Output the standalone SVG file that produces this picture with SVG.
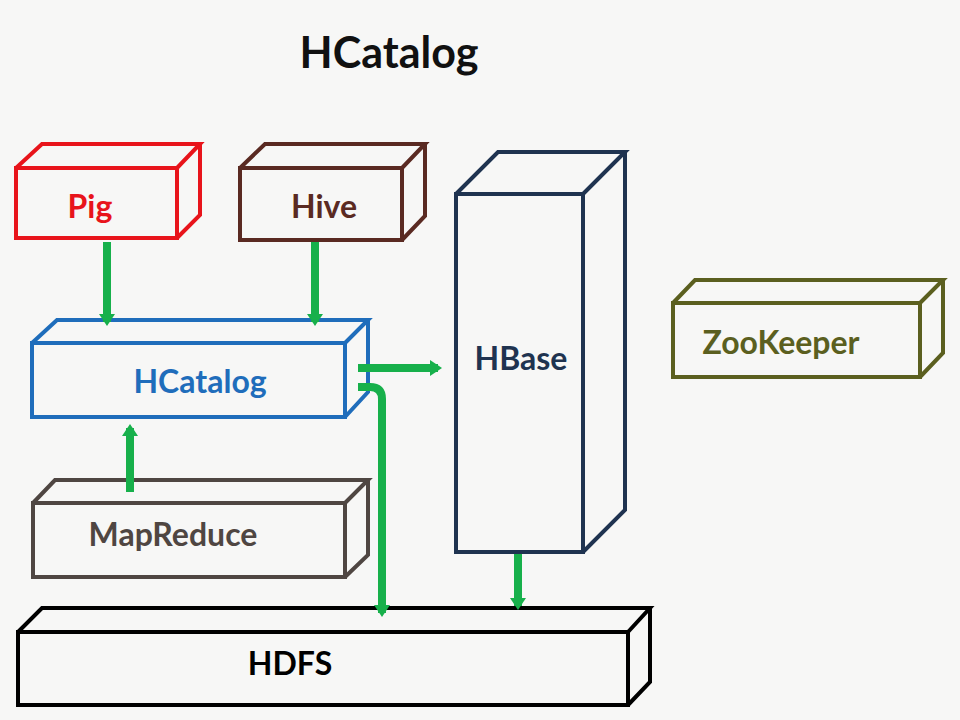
<svg xmlns="http://www.w3.org/2000/svg" width="960" height="720" viewBox="0 0 960 720">
<style>
.box{fill:none;stroke-width:4;stroke-linejoin:miter}
.lbl{font-family:Lato,"Open Sans","Liberation Sans",sans-serif;font-weight:bold;font-size:32px;text-anchor:middle;dominant-baseline:central}
.conn{fill:none;stroke:#17b04b;stroke-width:8}
</style>
<defs>
<marker id="ah" markerUnits="userSpaceOnUse" markerWidth="20" markerHeight="20" viewBox="0 0 20 20" refX="8" refY="10" orient="auto">
<polygon points="0,2 12,10 0,18" fill="#17b04b"/>
</marker>
</defs>
<rect width="960" height="720" fill="#f7f7f6"/>
<text x="389" y="51" class="lbl" style="font-size:43px;fill:#111">HCatalog</text>

<g id="pig">
<path class="box" stroke="#e8141b" d="M16,168 H177 V238 H16 Z M16,168 L42,144 H200 L177,168 M200,144 V215 L177,238"/>
<text x="90" y="205" class="lbl" fill="#e8141b">Pig</text>
</g>
<g id="hive">
<path class="box" stroke="#5a2a22" d="M240,168 H402 V240 H240 Z M240,168 L265,144 H425 L402,168 M425,144 V216 L402,240"/>
<text x="324" y="205" class="lbl" fill="#5a2a22">Hive</text>
</g>
<g id="hcatalog">
<path class="box" stroke="#1f6dbb" d="M32,343 H345 V417 H32 Z M32,343 L57,320 H368 L345,343 M368,320 V392 L345,417"/>
<text x="200" y="380" class="lbl" fill="#1f6dbb">HCatalog</text>
</g>
<g id="hbase">
<path class="box" stroke="#1f3350" d="M456,194 H583 V552 H456 Z M456,194 L498,152 H625 L583,194 M625,152 V510 L583,552"/>
<text x="521" y="357" class="lbl" fill="#1f3350">HBase</text>
</g>
<g id="zookeeper">
<path class="box" stroke="#5b5f1f" d="M673,303 H920 V377 H673 Z M673,303 L695,280 H943 L920,303 M943,280 V353 L920,377"/>
<text x="781" y="341" class="lbl" fill="#5b5f1f">ZooKeeper</text>
</g>
<g id="mapreduce">
<path class="box" stroke="#4f4642" d="M33,503 H345 V577 H33 Z M33,503 L55,480 H368 L345,503 M368,480 V555 L345,577"/>
<text x="173" y="533" class="lbl" fill="#4f4642">MapReduce</text>
</g>
<g id="hdfs">
<path class="box" stroke="#000" d="M18,632 H628 V705 H18 Z M18,632 L42,608 H650 L628,632 M650,608 V682 L628,705"/>
<text x="290" y="662" class="lbl" fill="#000">HDFS</text>
</g>

<g id="connectors">
<path class="conn" marker-end="url(#ah)" d="M107,242 V322"/>
<path class="conn" marker-end="url(#ah)" d="M315,242 V322"/>
<path class="conn" marker-end="url(#ah)" d="M130,492 V428"/>
<path class="conn" marker-end="url(#ah)" d="M358,368 H438"/>
<path class="conn" marker-end="url(#ah)" d="M358,387 H370 Q382,387 382,399 V613"/>
<path class="conn" marker-end="url(#ah)" d="M518,554 V606"/>
</g>
</svg>
